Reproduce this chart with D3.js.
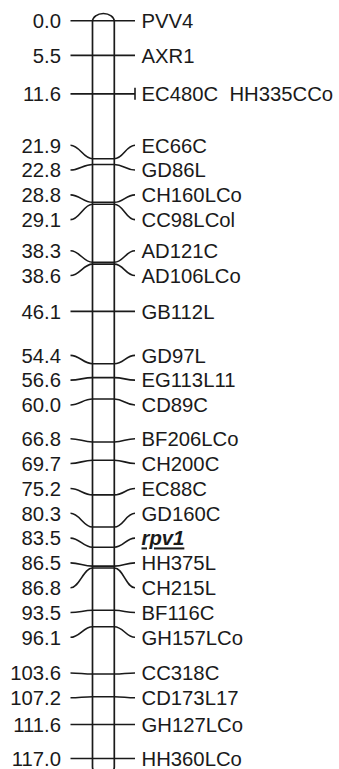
<!DOCTYPE html>
<html>
<head>
<meta charset="utf-8">
<script src="https://cdn.jsdelivr.net/npm/d3@7"></script>
<style>
  body { margin: 0; background: white; }
  text { font-family: "Liberation Sans", Arial, sans-serif; font-size: 20.3px; fill: #1a1a1a; }
</style>
</head>
<body>
<div id="map"></div>
<script>
// marker positions (cM) and names
const positions = [0.0, 5.5, 11.6, 21.9, 22.8, 28.8, 29.1, 38.3, 38.6, 46.1,
                   54.4, 56.6, 60.0, 66.8, 69.7, 75.2, 80.3, 83.5, 86.5, 86.8,
                   93.5, 96.1, 103.6, 107.2, 111.6, 117.0];
const markers = ["PVV4", "AXR1", "EC480C  HH335CCo", "EC66C", "GD86L", "CH160LCo", "CC98LCol",
                 "AD121C", "AD106LCo", "GB112L", "GD97L", "EG113L11", "CD89C", "BF206LCo",
                 "CH200C", "EC88C", "GD160C", "rpv1", "HH375L", "CH215L", "BF116C",
                 "GH157LCo", "CC318C", "CD173L17", "GH127LCo", "HH360LCo"];
const highlight = "rpv1";
const stacked = ["EC480C  HH335CCo"];   // co-located markers, drawn with an end tick

const config = {
  width     : 339,
  height    : 769,
  barLeft   : 92.5,
  barRight  : 114.3,
  barTop    : 13.5,
  barBottom : 775,
  lineLeft  : 70.5,
  lineRight : 135,
  labelGap  : 24.8,
  stroke    : "#1a1a1a"
};

const svg = d3.select("#map")
  .append("svg")
    .attr("width", config.width)
    .attr("height", config.height);

const y = d3.scaleLinear()
  .domain([0, d3.max(positions)])
  .range([20.7, 758.5]);

// spread labels apart: merge overlapping groups, centre each group on its mean
function spread(ys, gap) {
  let groups = ys.map(v => ({ items: [v], top: v }));
  let moved = true;
  while (moved) {
    moved = false;
    for (let i = 0; i < groups.length - 1; i++) {
      const a = groups[i], b = groups[i + 1];
      if (a.top + a.items.length * gap > b.top) {
        const items = a.items.concat(b.items);
        const mean = d3.mean(items);
        groups.splice(i, 2, { items: items, top: mean - (items.length - 1) * gap / 2 });
        moved = true;
        break;
      }
    }
  }
  const out = [];
  groups.forEach(g => g.items.forEach((v, k) => out.push(g.top + k * gap)));
  return out;
}

const barY = positions.map(p => y(p));
const labelY = spread(barY, config.labelGap);

const data = positions.map((p, i) => ({
  pos: p, name: markers[i], by: barY[i], ly: labelY[i]
}));

// chromosome body
const w = config.barRight - config.barLeft;
svg.append("rect")
  .attr("x", config.barLeft)
  .attr("y", config.barTop)
  .attr("width", w)
  .attr("height", config.barBottom - config.barTop)
  .attr("rx", w / 2)
  .attr("ry", 8)
  .attr("fill", "white")
  .attr("stroke", config.stroke)
  .attr("stroke-width", 1.7);

// connector lines
function connector(d) {
  const l = config.lineLeft, r = config.lineRight;
  const bl = config.barLeft, br = config.barRight;
  if (Math.abs(d.ly - d.by) < 0.8) {
    return "M" + l + "," + d.by + "H" + r;
  }
  return "M" + l + "," + d.ly +
         "C" + (l + 9) + "," + d.ly + " " + (bl - 9) + "," + d.by + " " + bl + "," + d.by +
         "H" + br +
         "C" + (br + 9) + "," + d.by + " " + (r - 9) + "," + d.ly + " " + r + "," + d.ly;
}

svg.selectAll(".link")
  .data(data)
  .enter()
  .append("path")
    .attr("class", "link")
    .attr("d", connector)
    .attr("fill", "none")
    .attr("stroke", config.stroke)
    .attr("stroke-width", 1.6);

// end tick for co-located markers
svg.selectAll(".tick")
  .data(data.filter(d => stacked.includes(d.name)))
  .enter()
  .append("line")
    .attr("x1", config.lineRight).attr("x2", config.lineRight)
    .attr("y1", d => d.ly - 6).attr("y2", d => d.ly + 6)
    .attr("stroke", config.stroke)
    .attr("stroke-width", 1.6);

// position labels
svg.selectAll(".pos")
  .data(data)
  .enter()
  .append("text")
    .attr("class", "pos")
    .attr("x", 61)
    .attr("y", d => d.ly)
    .attr("dy", "0.36em")
    .attr("text-anchor", "end")
    .text(d => d.pos.toFixed(1));

// marker labels
svg.selectAll(".name")
  .data(data)
  .enter()
  .append("text")
    .attr("class", "name")
    .attr("x", 141.5)
    .attr("y", d => d.ly)
    .attr("dy", "0.36em")
    .style("white-space", "pre")
    .style("font-weight", d => d.name === highlight ? "bold" : null)
    .style("font-style", d => d.name === highlight ? "italic" : null)
    .style("text-decoration", d => d.name === highlight ? "underline" : null)
    .text(d => d.name);
</script>
</body>
</html>
